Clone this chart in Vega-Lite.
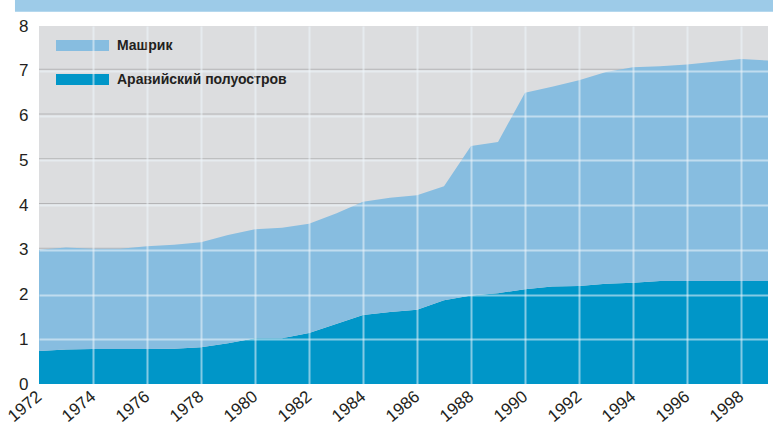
{
  "$schema": "https://vega.github.io/schema/vega-lite/v6.json",
  "width": 729,
  "height": 358,
  "autosize": {"type": "none"},
  "padding": {"left": 39, "top": 26, "right": 5, "bottom": 42},
  "background": "white",
  "config": {
    "view": {"fill": "#dcdddf", "stroke": null},
    "font": "Liberation Sans"
  },
  "datasets": {
    "flows": [
      {"year": 1972, "region": "Аравийский полуостров", "value": 0.74},
      {"year": 1973, "region": "Аравийский полуостров", "value": 0.77},
      {"year": 1974, "region": "Аравийский полуостров", "value": 0.78},
      {"year": 1975, "region": "Аравийский полуостров", "value": 0.78},
      {"year": 1976, "region": "Аравийский полуостров", "value": 0.78},
      {"year": 1977, "region": "Аравийский полуостров", "value": 0.79},
      {"year": 1978, "region": "Аравийский полуостров", "value": 0.82},
      {"year": 1979, "region": "Аравийский полуостров", "value": 0.91},
      {"year": 1980, "region": "Аравийский полуостров", "value": 1.02},
      {"year": 1981, "region": "Аравийский полуостров", "value": 1.02},
      {"year": 1982, "region": "Аравийский полуостров", "value": 1.14},
      {"year": 1983, "region": "Аравийский полуостров", "value": 1.34},
      {"year": 1984, "region": "Аравийский полуостров", "value": 1.54},
      {"year": 1985, "region": "Аравийский полуостров", "value": 1.61},
      {"year": 1986, "region": "Аравийский полуостров", "value": 1.66},
      {"year": 1987, "region": "Аравийский полуостров", "value": 1.87},
      {"year": 1988, "region": "Аравийский полуостров", "value": 1.98},
      {"year": 1989, "region": "Аравийский полуостров", "value": 2.03},
      {"year": 1990, "region": "Аравийский полуостров", "value": 2.12},
      {"year": 1991, "region": "Аравийский полуостров", "value": 2.18},
      {"year": 1992, "region": "Аравийский полуостров", "value": 2.19},
      {"year": 1993, "region": "Аравийский полуостров", "value": 2.24},
      {"year": 1994, "region": "Аравийский полуостров", "value": 2.26},
      {"year": 1995, "region": "Аравийский полуостров", "value": 2.3},
      {"year": 1996, "region": "Аравийский полуостров", "value": 2.3},
      {"year": 1997, "region": "Аравийский полуостров", "value": 2.3},
      {"year": 1998, "region": "Аравийский полуостров", "value": 2.3},
      {"year": 1999, "region": "Аравийский полуостров", "value": 2.3},
      {"year": 1972, "region": "Машрик", "value": 2.26},
      {"year": 1973, "region": "Машрик", "value": 2.28},
      {"year": 1974, "region": "Машрик", "value": 2.24},
      {"year": 1975, "region": "Машрик", "value": 2.24},
      {"year": 1976, "region": "Машрик", "value": 2.3},
      {"year": 1977, "region": "Машрик", "value": 2.32},
      {"year": 1978, "region": "Машрик", "value": 2.35},
      {"year": 1979, "region": "Машрик", "value": 2.42},
      {"year": 1980, "region": "Машрик", "value": 2.44},
      {"year": 1981, "region": "Машрик", "value": 2.47},
      {"year": 1982, "region": "Машрик", "value": 2.44},
      {"year": 1983, "region": "Машрик", "value": 2.47},
      {"year": 1984, "region": "Машрик", "value": 2.53},
      {"year": 1985, "region": "Машрик", "value": 2.55},
      {"year": 1986, "region": "Машрик", "value": 2.56},
      {"year": 1987, "region": "Машрик", "value": 2.55},
      {"year": 1988, "region": "Машрик", "value": 3.34},
      {"year": 1989, "region": "Машрик", "value": 3.38},
      {"year": 1990, "region": "Машрик", "value": 4.39},
      {"year": 1991, "region": "Машрик", "value": 4.46},
      {"year": 1992, "region": "Машрик", "value": 4.6},
      {"year": 1993, "region": "Машрик", "value": 4.73},
      {"year": 1994, "region": "Машрик", "value": 4.82},
      {"year": 1995, "region": "Машрик", "value": 4.8},
      {"year": 1996, "region": "Машрик", "value": 4.84},
      {"year": 1997, "region": "Машрик", "value": 4.9},
      {"year": 1998, "region": "Машрик", "value": 4.96},
      {"year": 1999, "region": "Машрик", "value": 4.93}
    ],
    "levels": [{"v": 1}, {"v": 2}, {"v": 3}, {"v": 4}, {"v": 5}, {"v": 6}, {"v": 7}],
    "band": [{"x0": 1971.11, "x1": 2001, "y0": 8.32, "y1": 8.7}]
  },
  "layer": [
    {
      "data": {"name": "levels"},
      "mark": {"type": "rule", "color": "#b4b4b6", "strokeWidth": 1, "yOffset": -1.5},
      "encoding": {
        "y": {"field": "v", "type": "quantitative"}
      }
    },
    {
      "data": {"name": "flows"},
      "mark": {"type": "area", "interpolate": "linear"},
      "encoding": {
        "x": {
          "field": "year",
          "type": "quantitative",
          "scale": {"domain": [1972, 1999], "nice": false, "zero": false},
          "axis": {
            "values": [1972, 1973, 1974, 1975, 1976, 1977, 1978, 1979, 1980, 1981, 1982, 1983, 1984, 1985, 1986, 1987, 1988, 1989, 1990, 1991, 1992, 1993, 1994, 1995, 1996, 1997, 1998, 1999],
            "format": "d",
            "labelExpr": "datum.value % 2 == 0 && datum.value < 1999 ? datum.label : ''",
            "labelAngle": -40,
            "labelAlign": "right",
            "labelBaseline": "middle",
            "labelFontSize": 17,
            "labelColor": "#231f20",
            "labelPadding": 10,
            "labelOverlap": false,
            "labelBound": false,
            "labelFlush": false,
            "ticks": false,
            "domain": false,
            "title": null,
            "grid": true,
            "gridColor": "#eef6fb",
            "gridWidth": 2,
            "gridOpacity": {"condition": {"test": "datum.value == 1972 || datum.value == 1999", "value": 0}, "value": 0.55},
            "zindex": 1
          }
        },
        "y": {
          "field": "value",
          "type": "quantitative",
          "stack": "zero",
          "scale": {"domain": [0, 8], "nice": false},
          "axis": {
            "values": [0, 1, 2, 3, 4, 5, 6, 7, 8],
            "labelFontSize": 17,
            "labelColor": "#231f20",
            "labelPadding": 11,
            "ticks": false,
            "domain": false,
            "title": null,
            "grid": true,
            "gridColor": "#eef6fb",
            "gridWidth": 2,
            "gridOpacity": {"condition": {"test": "datum.value == 0 || datum.value == 8", "value": 0}, "value": 0.55},
            "zindex": 1
          }
        },
        "color": {
          "field": "region",
          "type": "nominal",
          "scale": {"domain": ["Машрик", "Аравийский полуостров"], "range": ["#87bde0", "#0096c8"]},
          "legend": {
            "orient": "none",
            "legendX": 17,
            "legendY": -7,
            "title": null,
            "symbolType": "M-1,-0.21H1V0.21H-1Z",
            "symbolSize": 2809,
            "symbolStrokeWidth": 0,
            "symbolOpacity": 1,
            "labelFont": "Liberation Sans",
            "labelFontWeight": "bold",
            "labelFontSize": 14,
            "labelColor": "#231f20",
            "labelOffset": 8,
            "labelLimit": 400,
            "rowPadding": -27
          }
        },
        "order": {"field": "region", "sort": "ascending"}
      }
    },
    {
      "data": {"name": "band"},
      "mark": {"type": "rect", "color": "#9dcbe8", "clip": false},
      "encoding": {
        "x": {"field": "x0", "type": "quantitative"},
        "x2": {"field": "x1"},
        "y": {"field": "y0", "type": "quantitative"},
        "y2": {"field": "y1"}
      }
    }
  ]
}
